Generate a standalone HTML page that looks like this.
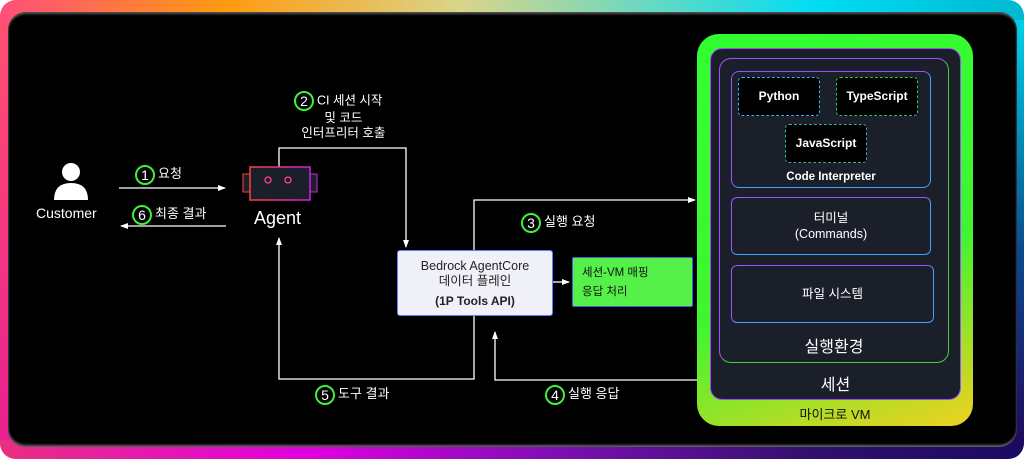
<!DOCTYPE html>
<html><head><meta charset="utf-8"><style>
body{margin:0;width:1024px;height:459px;overflow:hidden;background:#fff;font-family:"Liberation Sans","Noto Sans CJK KR",sans-serif}
.frame{position:absolute;left:0;top:0;width:1024px;height:459px;border-radius:16px;background:linear-gradient(90deg,#ff4f7a 0%,#ff9a10 22%,#d9d58a 45%,#00dcf5 80%,#00b8d0 100%)}
.fb{position:absolute;left:0;top:230px;width:1024px;height:229px;border-radius:0 0 16px 16px;background:linear-gradient(90deg,#e8307f 0%,#e000e0 30%,#7a10b0 55%,#30106a 80%,#1a0a60 100%)}
.fl{position:absolute;left:0;top:20px;width:12px;height:420px;background:linear-gradient(180deg,#ff5070,#e82090)}
.fr{position:absolute;right:0;top:20px;width:12px;height:420px;background:linear-gradient(180deg,#00d0e8,#0a4a90 55%,#200a60)}
.inner{position:absolute;left:8px;top:12px;width:1009px;height:435px;background:#000;border-radius:18px;box-shadow:inset 0 2px 2px #555,inset 0 -2px 2px #666}
.t{position:absolute;color:#fff;white-space:nowrap}
.c{display:inline-block;width:16px;height:16px;border:2px solid #3ef03a;border-radius:50%;text-align:center;line-height:16px;font-size:14px;vertical-align:middle;margin-right:3px}
.box{position:absolute;box-sizing:border-box}
</style></head><body>
<div class="frame"></div><div class="fb"></div><div class="fl"></div><div class="fr"></div>
<div class="inner"></div>

<svg width="1024" height="459" style="position:absolute;left:0;top:0">
<defs><marker id="a" markerWidth="8" markerHeight="8" refX="7" refY="4" orient="auto" markerUnits="userSpaceOnUse"><path d="M0,1 L8,4 L0,7z" fill="#fff"/></marker>
<linearGradient id="ag" x1="0" x2="1"><stop offset="0" stop-color="#ff4040"/><stop offset="1" stop-color="#d020e0"/></linearGradient></defs>
<circle cx="71" cy="172" r="9" fill="#fff"/>
<path d="M54,200 Q54,183 71,183 Q88,183 88,200z" fill="#fff"/>
<g stroke="#fff" stroke-width="1.3" fill="none">
<line x1="119" y1="188" x2="225" y2="188" marker-end="url(#a)"/>
<line x1="226" y1="226" x2="121" y2="226" marker-end="url(#a)"/>
<polyline points="279,167 279,148 406,148 406,247" marker-end="url(#a)"/>
<polyline points="474,250 474,200 695,200" marker-end="url(#a)"/>
<polyline points="474,316 474,379 279,379 279,238" marker-end="url(#a)"/>
<polyline points="697,380 495,380 495,332" marker-end="url(#a)"/>
<line x1="553" y1="282" x2="569" y2="282" marker-end="url(#a)"/>
</g>
<rect x="243" y="174" width="8" height="18" fill="#1a1f2a" stroke="#ff4040"/>
<rect x="309" y="174" width="8" height="18" fill="#1a1f2a" stroke="#d020e0"/>
<rect x="250" y="167" width="60" height="33" fill="#1a1f2a" stroke="url(#ag)" stroke-width="1.5"/>
<circle cx="268" cy="180" r="3" fill="none" stroke="#ff40a0" stroke-width="1.3"/>
<circle cx="288" cy="180" r="3" fill="none" stroke="#ff40a0" stroke-width="1.3"/>
</svg>

<div class="t" style="left:36px;top:205px;font-size:14px">Customer</div>
<div class="t" style="left:254px;top:208px;font-size:18px">Agent</div>
<div class="t" style="left:135px;top:163px;font-size:13px"><span class="c">1</span>요청</div>
<div class="t" style="left:132px;top:203px;font-size:13px"><span class="c">6</span>최종 결과</div>
<div class="t" style="left:291px;top:91px;font-size:12.5px;text-align:center;line-height:15px"><span class="c">2</span>CI 세션 시작<br>&nbsp;&nbsp;&nbsp;및 코드<br>&nbsp;&nbsp;&nbsp;인터프리터 호출</div>
<div class="t" style="left:521px;top:211px;font-size:13px"><span class="c">3</span>실행 요청</div>
<div class="t" style="left:315px;top:383px;font-size:13px"><span class="c">5</span>도구 결과</div>
<div class="t" style="left:545px;top:383px;font-size:13px"><span class="c">4</span>실행 응답</div>

<div class="box" style="left:397px;top:250px;width:156px;height:66px;background:#f0f0f8;border:1.5px solid #5a80ff;border-radius:3px;color:#222;font-size:12.5px;text-align:center;line-height:15px;padding-top:8px">Bedrock AgentCore<br>데이터 플레인<br><div style="margin-top:5px;font-weight:bold;font-size:12px">(1P Tools API)</div></div>
<div class="box" style="left:572px;top:257px;width:121px;height:50px;background:#55f04a;border:1px solid #4060e0;border-radius:2px;color:#111;font-size:11.5px;line-height:19px;padding:6px 0 0 9px">세션-VM 매핑<br>응답 처리</div>

<div class="box" style="left:697px;top:34px;width:276px;height:392px;border-radius:22px;background:linear-gradient(160deg,#30ff30 0%,#40f530 60%,#f0d020 100%)"></div>
<div class="box" style="left:710px;top:48px;width:251px;height:352px;border-radius:12px;background:#1a1f2a;border:1.5px solid #a050ff"></div>
<div class="box" style="left:719px;top:58px;width:230px;height:305px;border-radius:12px;border:1.5px solid;border-color:#a050ff #40d040 #40d040 #a050ff"></div>
<div class="box" style="left:731px;top:71px;width:200px;height:117px;border-radius:8px;border:1.5px solid;border-color:#a050ff #40a0ff #40a0ff #a050ff"></div>
<div class="box" style="left:738px;top:77px;width:82px;height:39px;border-radius:4px;border:1px dashed #30b0ff;background:#000;color:#fff;font-size:12px;text-align:center;line-height:37px;font-weight:bold">Python</div>
<div class="box" style="left:836px;top:77px;width:82px;height:39px;border-radius:4px;border:1px dashed #30c060;background:#000;color:#fff;font-size:12px;text-align:center;line-height:37px;font-weight:bold">TypeScript</div>
<div class="box" style="left:785px;top:124px;width:82px;height:39px;border-radius:4px;border:1px dashed #30b0a0;background:#000;color:#fff;font-size:12px;text-align:center;line-height:37px;font-weight:bold">JavaScript</div>
<div class="t" style="left:731px;top:171px;width:200px;text-align:center;font-size:11.5px;font-weight:bold">Code Interpreter</div>
<div class="box" style="left:731px;top:197px;width:200px;height:58px;border-radius:6px;border:1.5px solid;border-color:#a050ff #40a0ff #40a0ff #a050ff;color:#fff;font-size:12.5px;text-align:center;line-height:16px;padding-top:12px">터미널<br>(Commands)</div>
<div class="box" style="left:731px;top:265px;width:203px;height:58px;border-radius:6px;border:1.5px solid;border-color:#a050ff #40a0ff #40a0ff #a050ff;color:#fff;font-size:12.5px;text-align:center;line-height:56px">파일 시스템</div>
<div class="t" style="left:719px;top:333px;width:230px;text-align:center;font-size:16px">실행환경</div>
<div class="t" style="left:710px;top:371px;width:251px;text-align:center;font-size:16px">세션</div>
<div class="t" style="left:697px;top:404px;width:276px;text-align:center;font-size:13px;color:#111">마이크로 VM</div>
</body></html>
